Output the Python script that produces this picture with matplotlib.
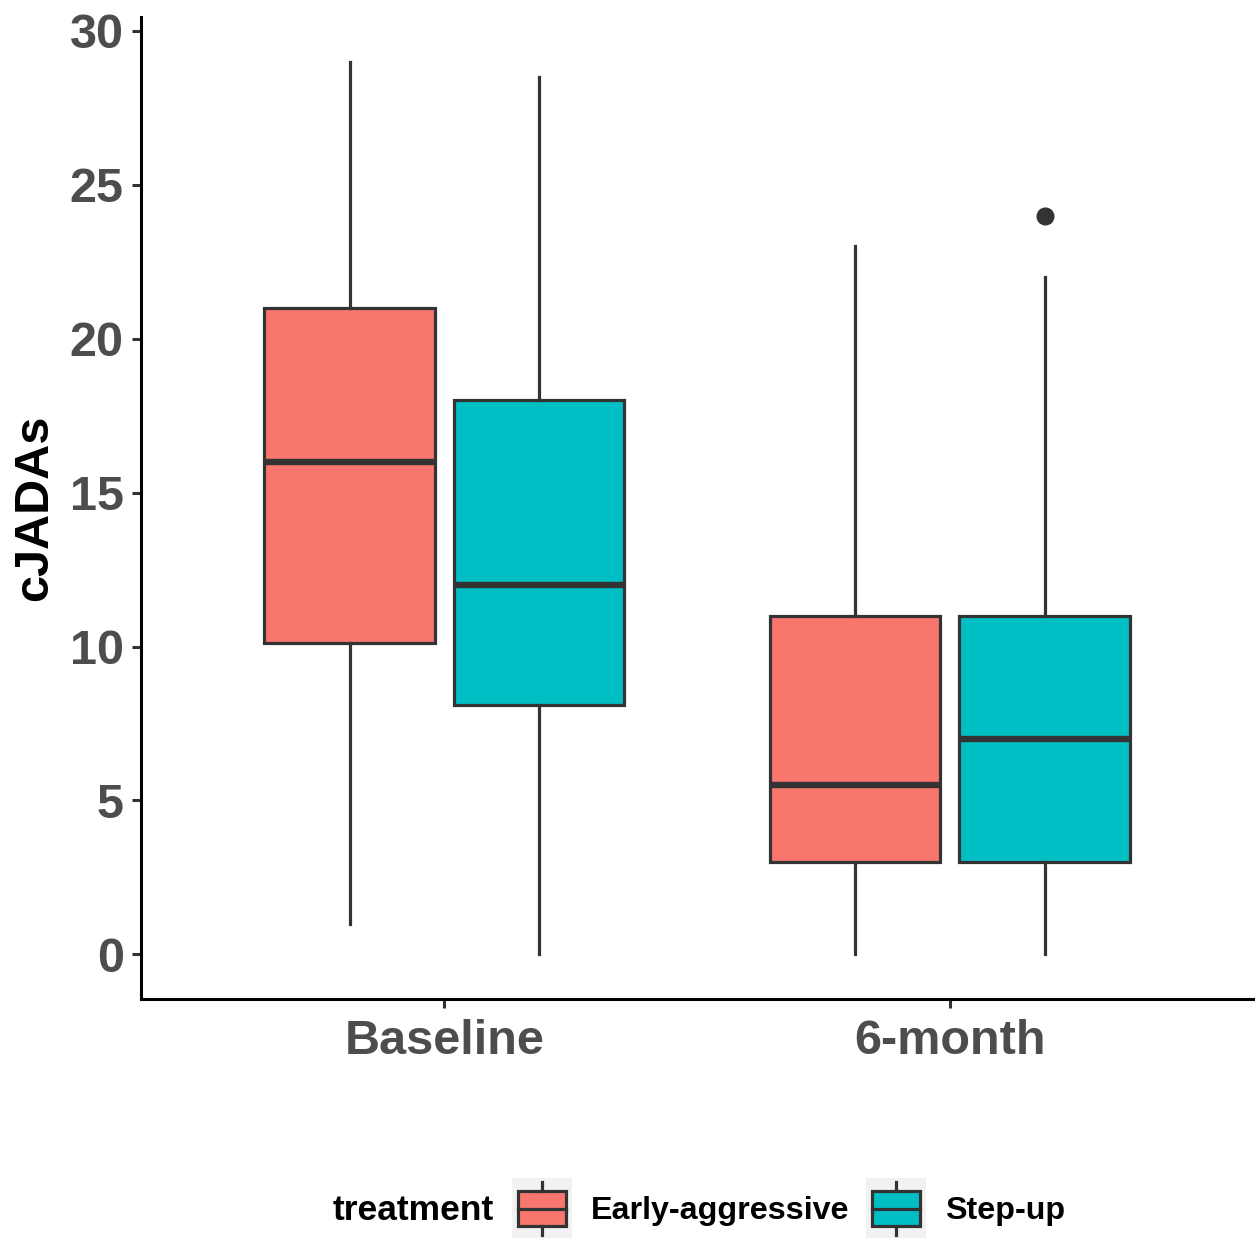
import matplotlib
matplotlib.use("Agg")
import matplotlib.pyplot as plt
from matplotlib.patches import Rectangle

plt.rcParams['font.family'] = ['Liberation Sans', 'DejaVu Sans']

# ---- data ----
timepoints = ["Baseline", "6-month"]
treatments = ["Early-aggressive", "Step-up"]
colors = ["#F8766D", "#00BFC4"]
# stats per treatment, per timepoint
whislo = {"Early-aggressive": [1, 0], "Step-up": [0, 0]}
q1 = {"Early-aggressive": [10.1, 3], "Step-up": [8.1, 3]}
med = {"Early-aggressive": [16, 5.5], "Step-up": [12, 7]}
q3 = {"Early-aggressive": [21, 11], "Step-up": [18, 11]}
whishi = {"Early-aggressive": [29, 23], "Step-up": [28.5, 22]}
fliers = {"Early-aggressive": [[], []], "Step-up": [[], [24]]}
yticks = [0, 5, 10, 15, 20, 25, 30]

W, H = 1256, 1239
fig = plt.figure(figsize=(W / 100, H / 100), dpi=100)
ax = fig.add_axes([141 / W, 1 - 999 / H, 1112 / W, 982 / H])

edge = "#333333"
lw = 2.3
offsets = [-0.1875, 0.1875]
bw = 0.3375
for ti, tr in enumerate(treatments):
    stats = []
    for k in range(len(timepoints)):
        stats.append(dict(whislo=whislo[tr][k], q1=q1[tr][k], med=med[tr][k],
                          q3=q3[tr][k], whishi=whishi[tr][k], fliers=fliers[tr][k]))
    pos = [k + 1 + offsets[ti] for k in range(len(timepoints))]
    ax.bxp(stats, positions=pos, widths=bw, patch_artist=True, showcaps=False,
           boxprops=dict(facecolor=colors[ti], edgecolor=edge, linewidth=lw),
           whiskerprops=dict(color=edge, linewidth=lw),
           medianprops=dict(color=edge, linewidth=4.6, solid_capstyle='butt'),
           flierprops=dict(marker='o', markerfacecolor=edge, markeredgecolor=edge,
                           markersize=12, linestyle='none'),
           manage_ticks=False, zorder=3)

ax.set_xlim(0.4, 2.6)
ax.set_ylim(-1.45, 30.45)
ax.set_xticks([1, 2])
ax.set_xticklabels(timepoints)
ax.set_yticks(yticks)
ax.set_yticklabels([str(v) for v in yticks])
for s in ["top", "right"]:
    ax.spines[s].set_visible(False)
for s in ["left", "bottom"]:
    ax.spines[s].set_linewidth(2.2)
    ax.spines[s].set_color("black")
ax.tick_params(axis='both', direction='out', length=6.5, width=2.2, color=edge,
               labelsize=35, labelcolor="#4D4D4D")
ax.tick_params(axis='y', pad=6)
ax.tick_params(axis='x', pad=8)
for lab in ax.get_xticklabels() + ax.get_yticklabels():
    lab.set_fontweight('bold')
ax.set_ylabel("cJADAs", fontsize=35, fontweight='bold', color='black', labelpad=9)

# ---- legend ----
ly = 1 - 1211 / H
fig.text(333 / W, ly, "treatment", fontsize=25.5, fontweight='bold', color='black',
         ha='left', va='center')
key_x = [512, 866]
text_x = [591, 945]
for ti, tr in enumerate(treatments):
    kax = fig.add_axes([key_x[ti] / W, 1 - 1238 / H, 60 / W, 60 / H])
    kax.set_facecolor("#F2F2F2")
    kax.set_xlim(0, 1)
    kax.set_ylim(0, 1)
    for s in kax.spines.values():
        s.set_visible(False)
    kax.set_xticks([])
    kax.set_yticks([])
    kax.plot([0.5, 0.5], [0.05, 0.2], color=edge, lw=lw)
    kax.plot([0.5, 0.5], [0.78, 0.93], color=edge, lw=lw)
    kax.add_patch(Rectangle((0.1, 0.2), 0.8, 0.58, facecolor=colors[ti],
                            edgecolor=edge, lw=lw))
    kax.plot([0.1, 0.9], [0.49, 0.49], color=edge, lw=lw)
    fig.text(text_x[ti] / W, ly, tr, fontsize=23.2, fontweight='bold', color='black',
             ha='left', va='center')

fig.savefig("out.png", dpi=100, facecolor='white')
